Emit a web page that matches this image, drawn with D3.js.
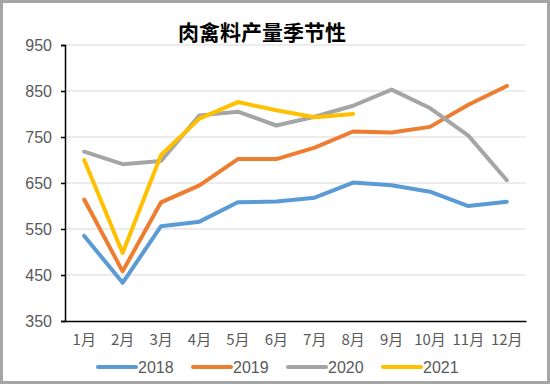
<!DOCTYPE html>
<html><head><meta charset="utf-8">
<script src="https://cdn.jsdelivr.net/npm/d3@7"></script>
<style>body{margin:0;background:#fff}svg{display:block}</style>
</head><body>
<script>
const months = ["1月","2月","3月","4月","5月","6月","7月","8月","9月","10月","11月","12月"];
const yTicks = [350,450,550,650,750,850,950];
const s2018 = [535,433,556,566,608,610,618,651,645,631,600,609];
const s2019 = [614,458,608,645,702,702,727,762,760,772,820,861];
const s2020 = [718,691,698,797,805,775,794,818,853,813,753,656];
const s2021 = [700,498,711,790,826,808,793,800];
const seriesNames = ["2018","2019","2020","2021"];
const colors = ["#5b9bd5","#ed7d31","#a5a5a5","#ffc000"];
const title = "肉禽料产量季节性";

const W=550,H=384;
const svg=d3.select("body").append("svg").attr("width",W).attr("height",H);
svg.append("rect").attr("x",1.5).attr("y",1.5).attr("width",W-3).attr("height",H-3)
  .attr("fill","#fff").attr("stroke","#a6a6a6").attr("stroke-width",3);

const L=65,R=526,T=45,B=321;
const x=d3.scaleBand().domain(months).range([L,R]);
const y=d3.scaleLinear().domain([350,950]).range([B,T]);

// grid
svg.append("g").selectAll("line").data(yTicks.filter(d=>d>350)).join("line")
  .attr("x1",L).attr("x2",R).attr("y1",d=>y(d)).attr("y2",d=>y(d))
  .attr("stroke","#d9d9d9").attr("stroke-width",1.2);

// y axis
const ya=svg.append("g").attr("transform",`translate(${L},0)`)
  .call(d3.axisLeft(y).tickValues(yTicks).tickSize(4).tickPadding(9).tickFormat(d3.format("d")));
ya.select(".domain").attr("stroke","#000").attr("stroke-width",1.5);
ya.selectAll(".tick line").attr("stroke","#000").attr("stroke-width",1.5);
ya.selectAll("text").attr("fill","#595959").attr("font-size",16).attr("font-family","Liberation Sans, Arial, sans-serif");

// x axis
const xa=svg.append("g").attr("transform",`translate(0,${B})`)
  .call(d3.axisBottom(x).tickSize(0).tickPadding(13));
xa.select(".domain").attr("stroke","#000").attr("stroke-width",1.5);
xa.selectAll("text").attr("fill","#595959").attr("font-size",15).attr("font-family","Noto Sans CJK SC, sans-serif");

const line=d3.line().x((d,i)=>x(months[i])+x.bandwidth()/2).y(d=>y(d));
[s2018,s2019,s2020,s2021].forEach((s,i)=>{
  svg.append("path").datum(s).attr("d",line).attr("fill","none")
    .attr("stroke",colors[i]).attr("stroke-width",4).attr("stroke-linejoin","round").attr("stroke-linecap","round");
});

svg.append("text").attr("x",262).attr("y",40).attr("text-anchor","middle")
  .attr("font-size",21).attr("font-weight","bold").attr("font-family","Noto Sans CJK SC, sans-serif")
  .attr("fill","#000").text(title);

// legend
const lg=svg.append("g");
seriesNames.forEach((n,i)=>{
  const lx=98+i*95, ly=367;
  lg.append("line").attr("x1",lx).attr("x2",lx+38).attr("y1",ly).attr("y2",ly)
    .attr("stroke",colors[i]).attr("stroke-width",4).attr("stroke-linecap","round");
  lg.append("text").attr("x",lx+40).attr("y",ly+6).attr("font-size",16)
    .attr("font-family","Liberation Sans, Arial, sans-serif").attr("fill","#595959").text(n);
});
</script>
</body></html>
